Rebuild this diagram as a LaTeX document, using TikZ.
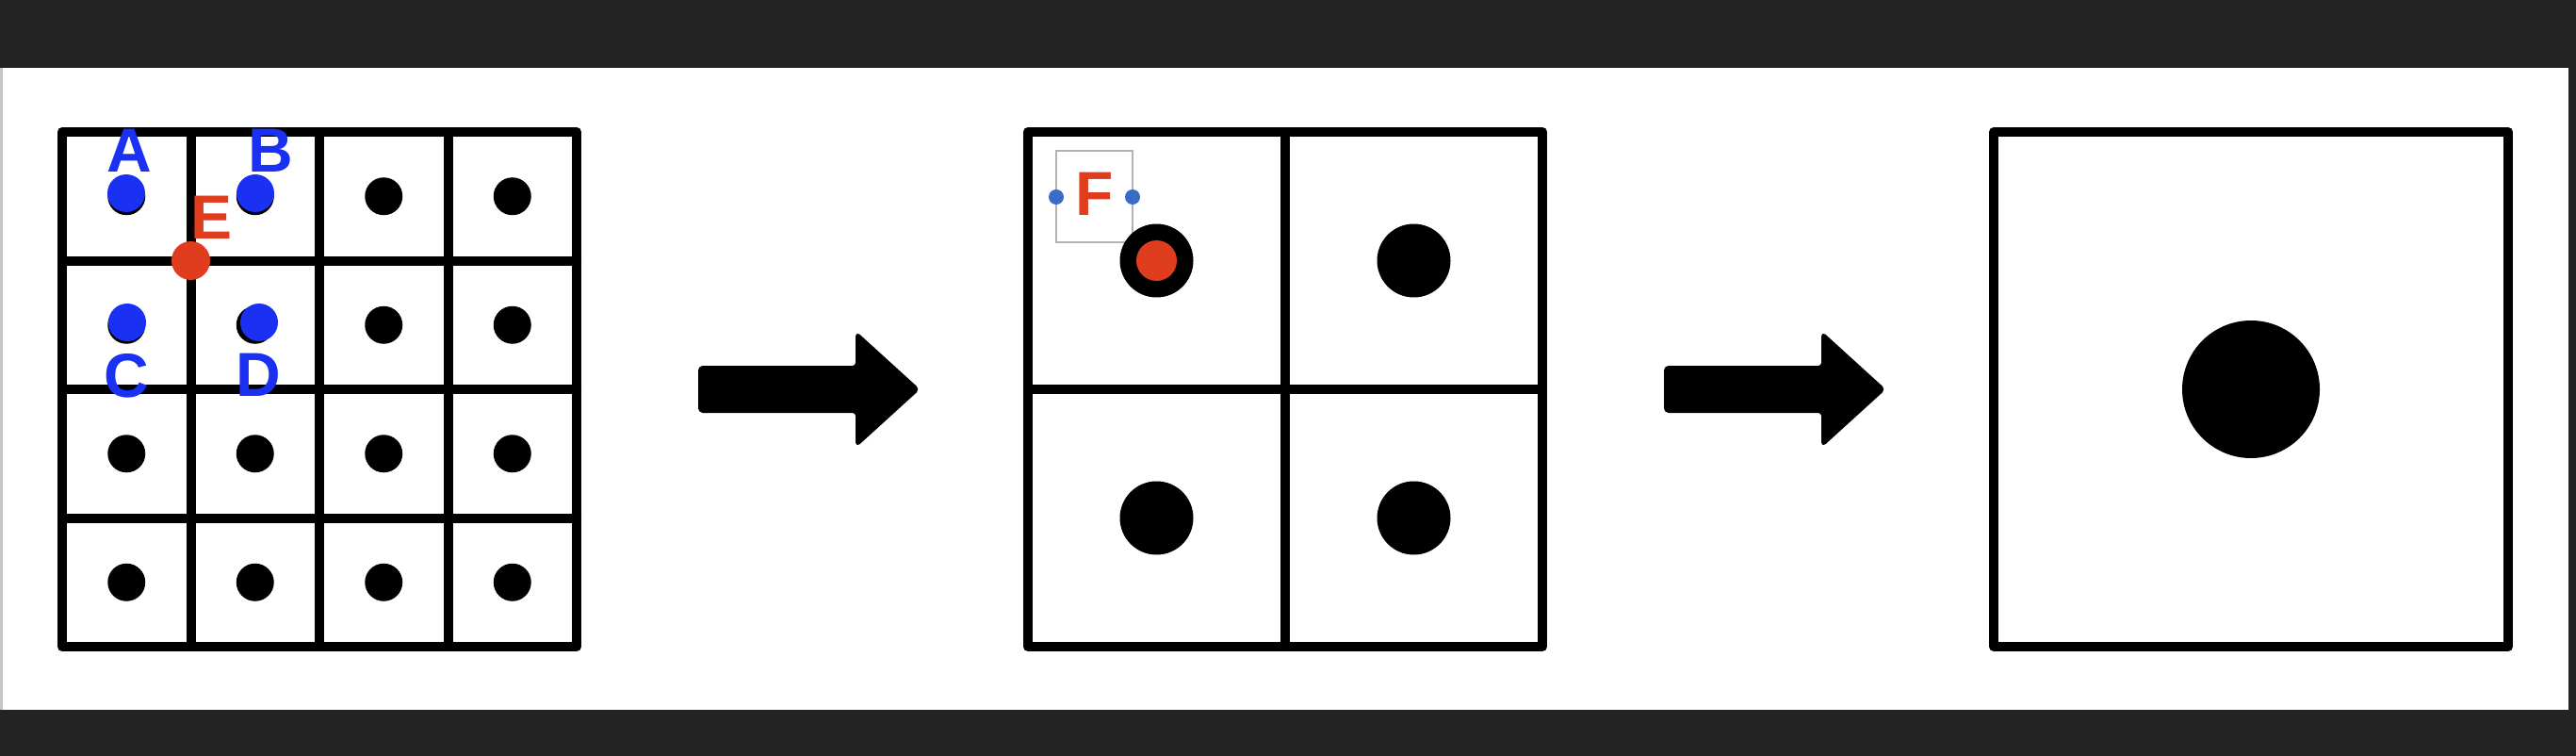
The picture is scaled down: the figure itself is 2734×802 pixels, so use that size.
\documentclass[tikz,border=0pt]{standalone}
\usepackage{fontspec}
\setmainfont{Liberation Sans}
\definecolor{band}{HTML}{232323}
\definecolor{lblue}{HTML}{1A30F2}
\definecolor{lred}{HTML}{E03C1E}
\definecolor{hblue}{HTML}{3A6BC8}
\tikzset{
  gridline/.style={line width=5pt, line join=round, line cap=round},
  lbl/.style={font=\fontsize{33}{33}\selectfont\bfseries, inner sep=0pt},
  bigarrow/.style={fill=black, draw=black, line width=1pt, line join=round, rounded corners=2pt}
}
\begin{document}
\begin{tikzpicture}[x=0.5pt,y=-0.5pt]
% background and frame bands
\fill[white] (0,0) rectangle (2734,802);
\useasboundingbox (0,0) rectangle (2734,802);
\fill[band] (0,0) rectangle (2734,72);
\fill[band] (0,753) rectangle (2734,802);
\fill[band] (2726,0) rectangle (2734,802);
\fill[gray!45] (0,72) rectangle (3,753);

% ---------- grid 1 (4x4) ----------
\foreach \i in {1,2,3} {
  \draw[gridline] ({66+136.5*\i},140) -- ({66+136.5*\i},686);
  \draw[gridline] (66,{140+136.5*\i}) -- (612,{140+136.5*\i});
}
\draw[gridline] (66,140) rectangle (612,686);
\foreach \c in {0,...,3} \foreach \r in {0,...,3}
  \fill ({134.25+136.5*\c},{208.25+136.5*\r}) circle[radius=10pt];
% blue points
\fill[lblue] (134,205) circle[radius=10pt];
\fill[lblue] (271,205) circle[radius=10pt];
\fill[lblue] (135,342) circle[radius=10pt];
\fill[lblue] (275,342) circle[radius=10pt];
% red point E
\fill[lred] (202.5,276.5) circle[radius=10.25pt];
\node[lbl, text=lblue] (la) at (137,160) {A};
\node[lbl, text=lblue] (lb) at (287,160) {B};
\node[lbl, text=lblue] (lc) at (134,399) {C};
\node[lbl, text=lblue] (ld) at (274,398) {D};
\node[lbl, text=lred]  (le) at (225,231) {E};

% ---------- arrow 1 ----------
\draw[bigarrow] (742,389) -- (909,389) -- (909,353) -- (975,413) -- (909,473) -- (909,437) -- (742,437) -- cycle;

% ---------- grid 2 (2x2) ----------
\draw[gridline] (1364,140) -- (1364,686);
\draw[gridline] (1091,413) -- (1637,413);
\draw[gridline] (1091,140) rectangle (1637,686);
% F selection box
\draw[gray!60, line width=1pt] (1121,160) rectangle (1202,257);
\node[lbl, text=lred] (lf) at (1162,206) {F};
\fill[hblue] (1121,209) circle[radius=4pt];
\fill[hblue] (1202,209) circle[radius=4pt];
\foreach \x/\y in {1227.5/276.5, 1500.5/276.5, 1227.5/549.5, 1500.5/549.5}
  \fill (\x,\y) circle[radius=19.5pt];
\fill[lred] (1227.5,276.5) circle[radius=10.75pt];

% ---------- arrow 2 ----------
\draw[bigarrow] (1767,389) -- (1934,389) -- (1934,353) -- (2000,413) -- (1934,473) -- (1934,437) -- (1767,437) -- cycle;

% ---------- grid 3 (1x1) ----------
\draw[gridline] (2116,140) rectangle (2662,686);
\fill (2389,413) circle[radius=36.5pt];
\end{tikzpicture}
\end{document}
